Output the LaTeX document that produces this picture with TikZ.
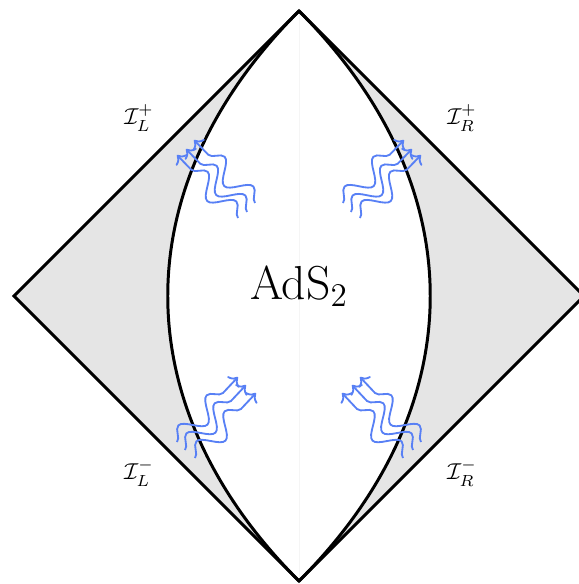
\documentclass[tikz,border=0pt]{standalone}
\usepackage{amsmath,amssymb}
\usepackage{tikz}
\usetikzlibrary{arrows.meta,decorations.pathmorphing}
\definecolor{wavecol}{RGB}{88,128,245}

\begin{document}
\begin{tikzpicture}[x=0.435pt,y=0.435pt,
                    edge/.style={line width=1.3pt,line join=miter},
                    wave/.style={->,wavecol,line width=0.8pt,decorate,
                      decoration={snake,amplitude=#1,segment length=18pt,post length=3pt}}]
  \useasboundingbox (-299,-288) rectangle (279,296);
  \coordinate (top) at (0,285);
  \coordinate (bot) at (0,-285);
  \coordinate (lft) at (-285,0);
  \coordinate (rgt) at (285,0);
  % shaded strips between the boundary and the lens
  \fill[black!10] (top) -- (lft) -- (bot) .. controls (-175,-110) and (-175,110) .. (top);
  \fill[black!10] (top) -- (rgt) -- (bot) .. controls (175,-110) and (175,110) .. (top);
  \draw[black!4,line width=0.3pt] (top) -- (bot);
  % outer diamond and the two arcs
  \draw[edge] (top) -- (lft) -- (bot) -- (rgt) -- cycle;
  \draw[edge] (top) .. controls (-175,110) and (-175,-110) .. (bot);
  \draw[edge] (top) .. controls (175,110) and (175,-110) .. (bot);
  % outgoing radiation, upper half
  \foreach \x/\y in {-61/78,-52/84,-44/93}
    \draw[wave=-4.5pt] (\x,\y) -- ++(-61,63);
  \foreach \x/\y in {61/78,52/84,44/93}
    \draw[wave=4.5pt] (\x,\y) -- ++(61,63);
  % incoming radiation, lower half
  \foreach \x/\y in {-122/-146,-114/-154,-104/-162}
    \draw[wave=4.5pt] (\x,\y) -- ++(61,65);
  \foreach \x/\y in {122/-146,114/-154,104/-162}
    \draw[wave=-4.5pt] (\x,\y) -- ++(-61,65);
  % labels
  \node[anchor=base,font=\huge] (ads) at (0,-3) {AdS$_2$};
  \node (scriLp) at (-160,178) {$\mathcal{I}^+_L$};
  \node (scriRp) at (163,178) {$\mathcal{I}^+_R$};
  \node (scriLm) at (-160,-177) {$\mathcal{I}^-_L$};
  \node (scriRm) at (163,-177) {$\mathcal{I}^-_R$};
\end{tikzpicture}
\end{document}
